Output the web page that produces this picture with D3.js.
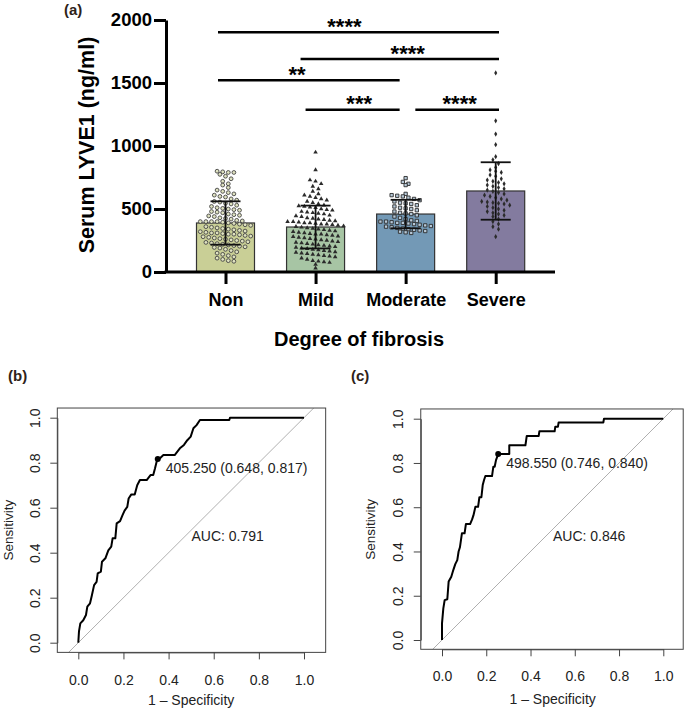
<!DOCTYPE html>
<html><head><meta charset="utf-8">
<script src="https://cdn.jsdelivr.net/npm/d3@7/dist/d3.min.js"></script>
<style>
body{margin:0;background:#fff;}
svg{display:block;font-family:"Liberation Sans",Arial,Helvetica,sans-serif;}
</style></head><body>
<svg id="chart" width="685" height="711"></svg>
<script>
// ---------- DATA ----------
const categories = ["Non", "Mild", "Moderate", "Severe"];
const means = [389, 357, 460, 643];
const sds = [172, 170, 113, 228];
const yTicks = [0, 500, 1000, 1500, 2000];
const nonValues = [800, 795, 790, 790, 775, 760, 740, 720, 700, 690, 670, 650, 640, 630, 620, 610, 600, 595, 580, 570, 560, 555, 545, 540, 530, 520, 510, 505, 500, 495, 490, 480, 475, 470, 460, 455, 450, 445, 440, 430, 425, 420, 410, 405, 400, 400, 400, 400, 395, 390, 385, 380, 375, 370, 360, 355, 350, 345, 340, 335, 330, 325, 320, 315, 310, 310, 305, 300, 300, 295, 290, 285, 280, 275, 270, 265, 260, 255, 250, 245, 240, 235, 230, 225, 220, 215, 210, 205, 200, 195, 190, 180, 170, 160, 150, 140, 130, 120, 110, 100, 90, 85];
const mildValues = [950, 810, 730, 720, 700, 680, 660, 640, 620, 610, 600, 590, 580, 570, 560, 550, 540, 530, 525, 520, 515, 510, 500, 495, 490, 480, 475, 470, 465, 460, 450, 445, 440, 430, 425, 420, 415, 410, 405, 400, 400, 395, 390, 390, 385, 380, 380, 375, 370, 365, 360, 355, 350, 345, 340, 335, 330, 325, 320, 315, 310, 305, 300, 300, 295, 290, 285, 280, 275, 270, 265, 260, 255, 250, 245, 240, 235, 230, 225, 220, 215, 210, 205, 200, 195, 190, 185, 180, 175, 170, 165, 160, 155, 150, 145, 140, 135, 130, 125, 120, 110, 100, 90, 85, 80, 75, 60, 30];
const moderateValues = [745, 715, 700, 690, 620, 610, 605, 600, 590, 580, 570, 560, 550, 545, 540, 530, 520, 510, 505, 500, 490, 480, 470, 465, 460, 450, 440, 430, 420, 410, 405, 400, 400, 395, 390, 390, 385, 380, 375, 370, 365, 360, 355, 350, 345, 340, 335, 330, 325, 320, 315, 310];
const severeValues = [1580, 1200, 1095, 1010, 915, 890, 860, 830, 810, 800, 790, 770, 760, 740, 730, 720, 710, 700, 690, 680, 670, 660, 650, 640, 630, 620, 610, 600, 590, 580, 570, 560, 555, 550, 545, 540, 530, 520, 510, 500, 490, 480, 470, 460, 450, 440, 420, 400, 380, 360, 340, 280];
const comparisonFrom = [0, 1, 0, 1, 2];
const comparisonTo = [3, 3, 2, 2, 3];
const comparisonLevel = [1902, 1690, 1521, 1288, 1288];
const comparisonLabel = ["****", "****", "**", "***", "****"];

const rocTicks = [0, 0.2, 0.4, 0.6, 0.8, 1.0];
const rocB_fpr = [0,0.003,0.009,0.022,0.034,0.04,0.052,0.06,0.07,0.081,0.086,0.1,0.105,0.12,0.133,0.146,0.152,0.164,0.17,0.185,0.196,0.205,0.217,0.223,0.235,0.25,0.261,0.273,0.303,0.32,0.332,0.34,0.347,0.352,0.362,0.377,0.427,0.45,0.468,0.483,0.498,0.51,0.524,0.539,0.669,0.672,1];
const rocB_tpr = [0,0.05,0.086,0.1,0.123,0.16,0.175,0.21,0.256,0.27,0.308,0.316,0.36,0.375,0.41,0.427,0.464,0.464,0.53,0.54,0.567,0.587,0.604,0.641,0.659,0.659,0.7,0.723,0.723,0.745,0.745,0.775,0.804,0.817,0.82,0.834,0.834,0.864,0.879,0.9,0.916,0.953,0.967,0.99,0.99,1,1];
const rocB_best = [0.352, 0.817];
const rocB_bestLabel = "405.250 (0.648, 0.817)";
const rocB_auc = "AUC: 0.791";
const rocC_fpr = [0,0,0.006,0.012,0.024,0.03,0.042,0.051,0.06,0.069,0.075,0.081,0.09,0.102,0.108,0.127,0.136,0.142,0.151,0.163,0.169,0.178,0.184,0.19,0.196,0.226,0.232,0.238,0.244,0.254,0.304,0.304,0.377,0.383,0.437,0.44,0.509,0.512,0.524,0.527,0.729,0.732,1];
const rocC_tpr = [0,0.075,0.143,0.18,0.184,0.264,0.286,0.316,0.343,0.361,0.4,0.419,0.482,0.482,0.524,0.524,0.545,0.563,0.602,0.602,0.645,0.645,0.7,0.723,0.741,0.741,0.783,0.783,0.813,0.84,0.84,0.88,0.88,0.922,0.922,0.943,0.943,0.964,0.964,0.983,0.983,1,1];
const rocC_best = [0.254, 0.840];
const rocC_bestLabel = "498.550 (0.746, 0.840)";
const rocC_auc = "AUC: 0.846";

// ---------- PANEL A ----------
const svg = d3.select("#chart");
const groupValues = [nonValues, mildValues, moderateValues, severeValues];
const barColors = ["#c9cf96", "#a7c5a4", "#7399b6", "#837b9f"];
const x = d3.scalePoint().domain(categories).range([225.5, 495.7]);
const y = d3.scaleLinear().domain([0, 2000]).range([272, 20]);
const barW = 58;
const A = svg.append("g");

A.append("text").attr("x", 64).attr("y", 15).attr("font-size", 15).attr("font-weight", "bold").attr("fill", "#2e2219").text("(a)");

// bars
A.selectAll("rect.bar").data(categories).join("rect")
  .attr("x", d => x(d) - barW / 2).attr("width", barW)
  .attr("y", (d, i) => y(means[i])).attr("height", (d, i) => y(0) - y(means[i]))
  .attr("fill", (d, i) => barColors[i]).attr("stroke", "#333").attr("stroke-width", 1.2);

// points (simple beeswarm by rows)
const symbols = [null, d3.symbolTriangle, d3.symbolSquare, d3.symbolDiamond];
groupValues.forEach((vals, gi) => {
  const rows = d3.group(vals, v => Math.round(y(v) / 5.2));
  const pts = [];
  rows.forEach(arr => {
    const n = arr.length;
    arr.forEach((v, k) => pts.push({v, dx: (k - (n - 1) / 2) * 5.6}));
  });
  const g = A.append("g");
  if (gi === 0) {
    g.selectAll("circle").data(pts).join("circle")
      .attr("cx", p => x(categories[gi]) + p.dx).attr("cy", p => y(p.v)).attr("r", 1.9)
      .attr("fill", "#dfe2c0").attr("stroke", "#444").attr("stroke-width", 0.9);
  } else {
    const sz = gi === 1 ? 9 : gi === 2 ? 11 : 8;
    g.selectAll("path").data(pts).join("path")
      .attr("transform", p => `translate(${x(categories[gi]) + p.dx},${y(p.v)})`)
      .attr("d", d3.symbol().type(symbols[gi]).size(sz))
      .attr("fill", gi === 2 ? "#b7c9d8" : "#2b2b2b")
      .attr("stroke", gi === 2 ? "#2b2b2b" : "none").attr("stroke-width", 0.9);
  }
});

// error bars
categories.forEach((c, i) => {
  const g = A.append("g").attr("stroke", "#111").attr("stroke-width", 1.8);
  g.append("line").attr("x1", x(c)).attr("x2", x(c)).attr("y1", y(means[i] + sds[i])).attr("y2", y(means[i] - sds[i]));
  [means[i] + sds[i], means[i] - sds[i]].forEach(v =>
    g.append("line").attr("x1", x(c) - 15).attr("x2", x(c) + 15).attr("y1", y(v)).attr("y2", y(v)));
});

// axes
const yAxis = A.append("g").attr("transform", "translate(166,0)")
  .call(d3.axisLeft(y).tickValues(yTicks).tickFormat(d3.format("d")).tickSize(12).tickSizeOuter(0).tickPadding(2));
yAxis.select(".domain").attr("stroke-width", 3).attr("stroke", "#000");
yAxis.selectAll(".tick line").attr("stroke-width", 3);
yAxis.selectAll(".tick text").attr("font-size", 18.5).attr("font-weight", "bold").attr("fill", "#000")
  .attr("font-family", "Liberation Sans, Arial, sans-serif");

A.append("line").attr("x1", 164.5).attr("x2", 555).attr("y1", y(0)).attr("y2", y(0)).attr("stroke", "#000").attr("stroke-width", 3);
const xAxis = A.append("g").attr("transform", `translate(0,${y(0)})`)
  .call(d3.axisBottom(x).tickSize(12).tickSizeOuter(0).tickPadding(5));
xAxis.select(".domain").remove();
xAxis.selectAll(".tick line").attr("stroke-width", 3);
xAxis.selectAll(".tick text").attr("font-size", 18).attr("font-weight", "bold").attr("fill", "#000")
  .attr("font-family", "Liberation Sans, Arial, sans-serif").attr("dy", "0.95em");

A.append("text").attr("transform", "translate(94,145) rotate(-90)").attr("text-anchor", "middle")
  .attr("font-size", 21.5).attr("font-weight", "bold").text("Serum LYVE1 (ng/ml)");
A.append("text").attr("x", 359).attr("y", 346).attr("text-anchor", "middle")
  .attr("font-size", 20).attr("font-weight", "bold").text("Degree of fibrosis");

// significance bars
const compStartDx = [-7.5, -15, -7.5, -10, 9.7];
const compEndDx = [3.3, 3.3, -6, -6, 3.3];
const compLabelT = [0.45, 0.54, 0.435, 0.57, 0.53];
comparisonLabel.forEach((lab, i) => {
  const x1 = x(categories[comparisonFrom[i]]) + compStartDx[i];
  const x2 = x(categories[comparisonTo[i]]) + compEndDx[i];
  const yy = y(comparisonLevel[i]);
  A.append("line").attr("x1", x1).attr("x2", x2).attr("y1", yy).attr("y2", yy).attr("stroke", "#000").attr("stroke-width", 2.5);
  A.append("text").attr("x", x1 + (x2 - x1) * compLabelT[i]).attr("y", yy + 1.5).attr("text-anchor", "middle")
    .attr("font-size", 22).attr("font-weight", "bold").text(lab);
});

// ---------- ROC PANELS ----------
function rocPanel(cfg) {
  const g = svg.append("g");
  const xs = d3.scaleLinear().domain([0, 1]).range([cfg.x0, cfg.x1]);
  const ys = d3.scaleLinear().domain([0, 1]).range([cfg.y0, cfg.y1]);
  g.append("text").attr("x", cfg.tagX).attr("y", 381).attr("font-size", 15).attr("font-weight", "bold").attr("fill", "#2e2219").text(cfg.tag);
  const bx0 = xs(cfg.xd[0]), bx1 = xs(cfg.xd[1]), by0 = ys(cfg.yd[0]), by1 = ys(cfg.yd[1]);
  const cid = "clip" + cfg.tag.replace(/\W/g, "");
  g.append("clipPath").attr("id", cid).append("rect")
    .attr("x", bx0).attr("y", by1).attr("width", bx1 - bx0).attr("height", by0 - by1);
  g.append("line").attr("clip-path", `url(#${cid})`)
    .attr("x1", xs(-0.2)).attr("y1", ys(-0.2)).attr("x2", xs(1.2)).attr("y2", ys(1.2))
    .attr("stroke", "#b0b0b0").attr("stroke-width", 1);
  g.append("rect").attr("x", bx0).attr("y", by1).attr("width", bx1 - bx0).attr("height", by0 - by1)
    .attr("fill", "none").attr("stroke", "#444").attr("stroke-width", 1);
  const ya = g.append("g").attr("transform", `translate(${bx0},0)`)
    .call(d3.axisLeft(ys).tickValues(rocTicks).tickFormat(d3.format(".1f")).tickSize(7).tickSizeOuter(0).tickPadding(4));
  ya.selectAll(".domain, .tick line").attr("stroke", "#444");
  ya.selectAll(".tick text").attr("font-size", 14).attr("fill", "#222").attr("font-family", "Liberation Sans, Arial, sans-serif")
    .attr("transform", "rotate(-90)").attr("text-anchor", "middle").attr("x", 0).attr("y", cfg.yLabBase - bx0).attr("dy", 0);
  const xa = g.append("g").attr("transform", `translate(0,${by0})`)
    .call(d3.axisBottom(xs).tickValues(rocTicks).tickFormat(d3.format(".1f")).tickSize(7).tickSizeOuter(0));
  xa.selectAll(".domain, .tick line").attr("stroke", "#444");
  xa.selectAll(".tick text").attr("font-size", 14).attr("fill", "#222").attr("font-family", "Liberation Sans, Arial, sans-serif")
    .attr("y", cfg.xLabBase - by0).attr("dy", 0);
  g.append("text").attr("transform", `translate(${cfg.sensX},${(cfg.y0 + cfg.y1) / 2}) rotate(-90)`).attr("text-anchor", "middle")
    .attr("font-size", 13.5).attr("fill", "#222").text("Sensitivity");
  g.append("text").attr("x", (cfg.x0 + cfg.x1) / 2).attr("y", cfg.specY).attr("text-anchor", "middle")
    .attr("font-size", 14).attr("fill", "#222").text("1 \u2013 Specificity");
  const pts = cfg.fpr.map((f, i) => [f, cfg.tpr[i]]);
  g.append("path").attr("d", d3.line().x(d => xs(d[0])).y(d => ys(d[1]))(pts))
    .attr("fill", "none").attr("stroke", "#000").attr("stroke-width", 2).attr("stroke-linejoin", "round");
  g.append("circle").attr("cx", xs(cfg.best[0])).attr("cy", ys(cfg.best[1])).attr("r", 3).attr("fill", "#000");
  g.append("text").attr("x", xs(cfg.best[0]) + 8).attr("y", ys(cfg.best[1]) + 14).attr("font-size", 14).attr("fill", "#222").text(cfg.bestLabel);
  g.append("text").attr("x", cfg.aucX).attr("y", cfg.aucY).attr("font-size", 14).attr("fill", "#222").text(cfg.auc);
}

rocPanel({tag: "(b)", tagX: 8, x0: 78.3, x1: 304, y0: 642.7, y1: 417.7, xd: [-0.093, 1.096], yd: [-0.043, 1.043],
  yLabBase: 39.5, xLabBase: 685, sensX: 12.5, specY: 705, fpr: rocB_fpr, tpr: rocB_tpr, best: rocB_best,
  bestLabel: rocB_bestLabel, auc: rocB_auc, aucX: 191.5, aucY: 541});
rocPanel({tag: "(c)", tagX: 351, x0: 442, x1: 663.3, y0: 640, y1: 418.7, xd: [-0.096, 1.09], yd: [-0.042, 1.044],
  yLabBase: 403.3, xLabBase: 681.5, sensX: 375, specY: 703.5, fpr: rocC_fpr, tpr: rocC_tpr, best: rocC_best,
  bestLabel: rocC_bestLabel, auc: rocC_auc, aucX: 553, aucY: 541});
</script>
</body></html>
